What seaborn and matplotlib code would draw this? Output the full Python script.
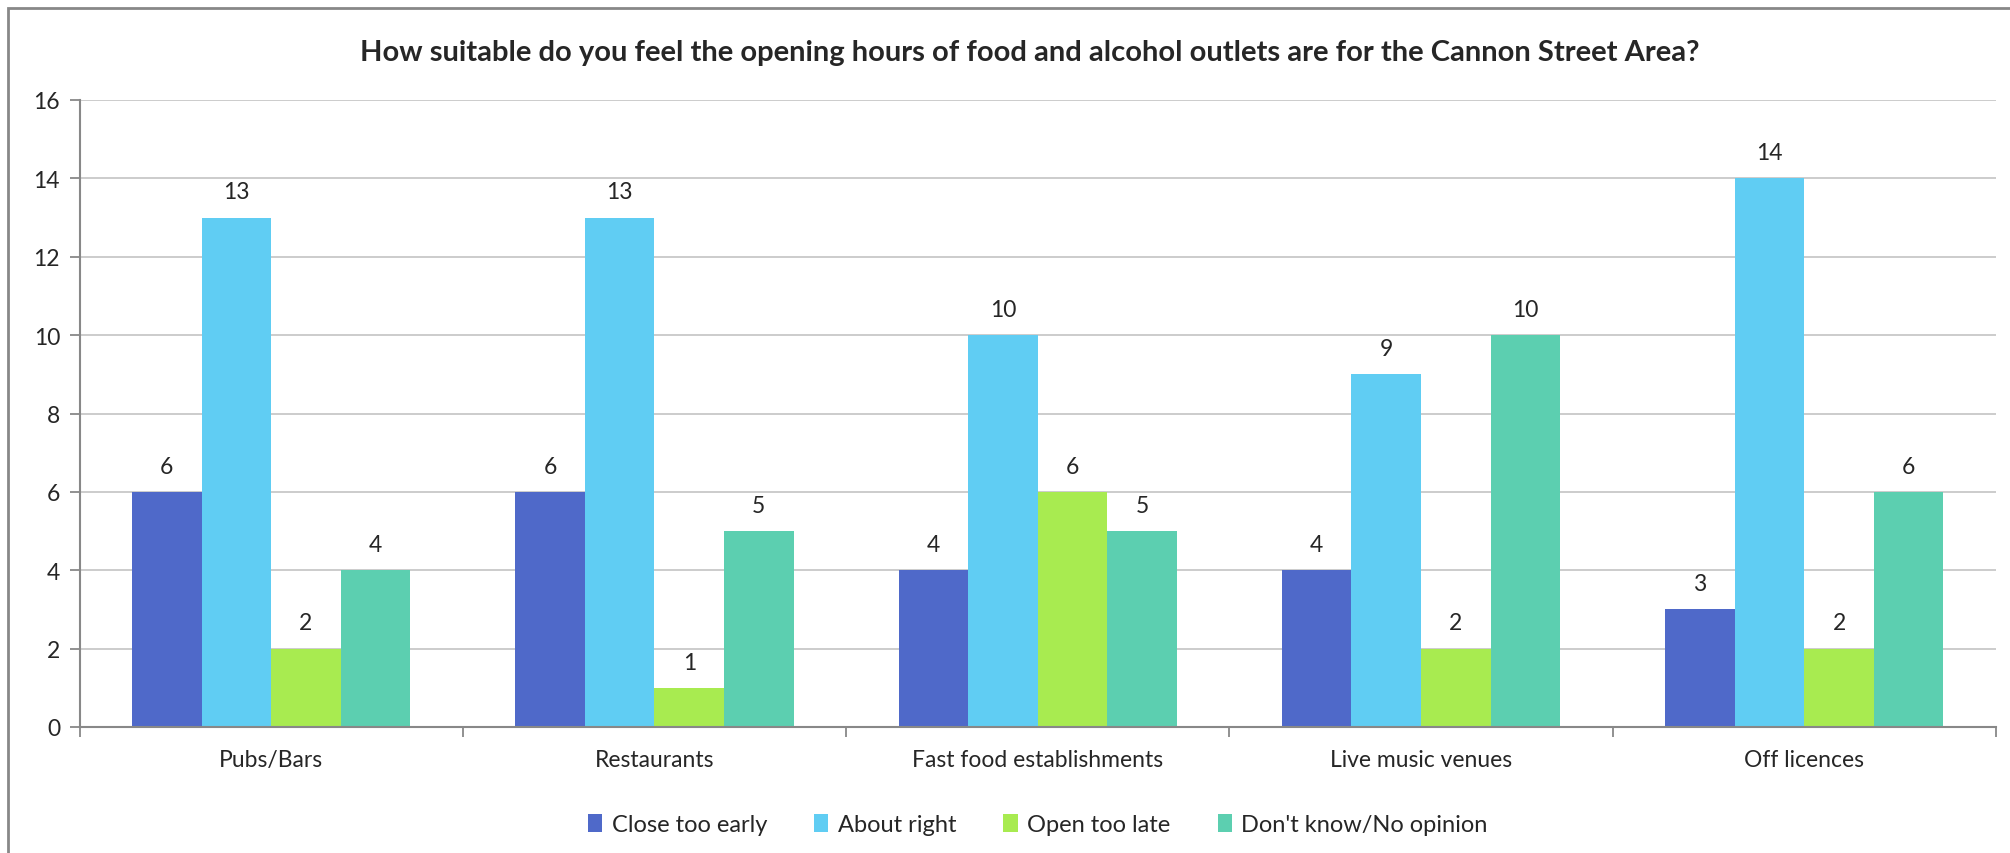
import pandas as pd
import numpy as np
import matplotlib.pyplot as plt
import seaborn as sns
from matplotlib.patches import Rectangle

### DATA ###
categories = ['Pubs/Bars', 'Restaurants', 'Fast food establishments', 'Live music venues', 'Off licences']
responses = ['Close too early', 'About right', 'Open too late', "Don't know/No opinion"]
close_too_early = [6, 6, 4, 4, 3]
about_right = [13, 13, 10, 9, 14]
open_too_late = [2, 1, 6, 2, 2]
dont_know = [4, 5, 5, 10, 6]
colors = ['#4F69C9', '#60CDF3', '#A8EB50', '#5CCFB0']

# long format for seaborn
DATA = pd.DataFrame({
    'category': categories * 4,
    'response': np.repeat(responses, len(categories)),
    'count': close_too_early + about_right + open_too_late + dont_know,
})

### PLOT ###
sns.set_style('white')
plt.rcParams['font.family'] = ['Lato', 'DejaVu Sans']

fig = plt.figure(figsize=(20.10, 8.54), dpi=100)
ax = fig.add_axes([79.5 / 2010, 1 - 728 / 854, (1996 - 79.5) / 2010, (728 - 101) / 854])

sns.barplot(data=DATA, x='category', y='count', hue='response', order=categories,
            hue_order=responses, palette=colors, saturation=1, width=0.726,
            linewidth=0, ax=ax)

for c in ax.containers:
    ax.bar_label(c, padding=11, fontsize=16.5)

ax.set_ylim(0, 16)
ax.set_yticks(range(0, 17, 2))
ax.set_xlim(-0.5, len(categories) - 0.5)
ax.yaxis.grid(True, color='#C8C8C8', linewidth=1.3)
ax.set_axisbelow(True)
ax.set_xlabel('')
ax.set_ylabel('')

# ticks between categories on x axis
ax.set_xticks(np.arange(-0.5, len(categories), 1.0), minor=True)
ax.tick_params(axis='x', which='major', length=0, pad=16, labelsize=16.5)
ax.tick_params(axis='x', which='minor', length=7, width=1.3, color='#888888', direction='out', bottom=True)
ax.tick_params(axis='y', length=7, width=1.3, color='#888888', direction='out', left=True, labelsize=16.5, pad=7)

for s in ['top', 'right']:
    ax.spines[s].set_visible(False)
for s in ['left', 'bottom']:
    ax.spines[s].set_color('#888888')
    ax.spines[s].set_linewidth(1.5)

ax.legend(loc='upper center', bbox_to_anchor=(0.5, -0.105), ncol=4, frameon=False,
          fontsize=17, handlelength=0.6, handleheight=0.8, handletextpad=0.4, columnspacing=2.0)

fig.text(1030 / 2010, 1 - 53 / 854, 'How suitable do you feel the opening hours of food and alcohol outlets are for the Cannon Street Area?',
         ha='center', va='center', fontsize=21, fontweight='bold')

# outer chart frame
fig.patches.append(Rectangle((8 / 2010, -0.1), 1.1, 1 - 9 / 854 + 0.1, transform=fig.transFigure,
                             fill=False, edgecolor='#888888', linewidth=2))

plt.savefig('out.png', dpi=100)
